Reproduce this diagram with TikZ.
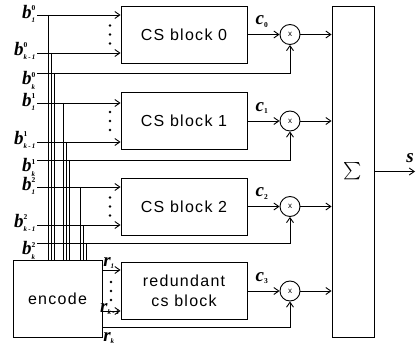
\documentclass[tikz,border=0pt]{standalone}
\usepackage{amsmath}
\usepackage{fontspec}
\setmainfont{Liberation Serif}
\newfontfamily\boxfont{Liberation Sans}[LetterSpace=8]
\newfontfamily\mulfont{Liberation Sans}
\usetikzlibrary{arrows.meta}
\newcommand\lbsup[1]{\hbox{\fontsize{7.5}{8}\selectfont\bfseries #1}}
\newcommand\lbsub[1]{\hbox{\fontsize{7}{8}\selectfont\bfseries\itshape #1}}
\newcommand\lbmain[1]{\hbox{\bfseries\itshape #1}}
\newcommand\bl[2]{$\lbmain{b}^{\lbsup{#1}}_{\lbsub{#2}}$}
\begin{document}
\begin{tikzpicture}[x=1pt,y=-1pt,
 ln/.style={line width=0.9pt},
 arr/.style={ln,-{Straight Barb[length=5pt,width=7pt]}},
 blk/.style={draw,ln,minimum width=126pt,minimum height=57pt,inner sep=0pt,
   font=\boxfont\fontsize{16}{20}\selectfont,align=center},
 mul/.style={draw,ln,circle,minimum size=20pt,inner sep=0pt,font=\mulfont\fontsize{8}{8}\selectfont},
 lab/.style={inner sep=0pt,font=\fontsize{19}{19}\selectfont},
 dotn/.style={circle,fill,inner sep=0pt,minimum size=2.6pt}]
\useasboundingbox (0,0) rectangle (418,347);
% encode and sum
\node[draw,ln,minimum width=89pt,minimum height=77pt,inner sep=0pt,
  font=\boxfont\fontsize{16}{18}\selectfont] (enc) at (57.5,298.5) {encode};
\node[draw,ln,minimum width=42pt,minimum height=331pt,inner sep=0pt,
  font=\fontsize{19}{19}\selectfont] (sum) at (353,171.5) {$\sum$};
% three CS blocks
\foreach \i/\yc/\ya/\yb/\yk/\xa/\xb/\xc in
 {0/34.5/15/53/73/48/51/54, 1/121/103/142/160/63/66/69, 2/206.5/187/225/243/80/83/86}{
  \node[blk] (blk\i) at (184,\yc) {CS block \i};
  \node[mul] (m\i) at (290,\yc) {x};
  \coordinate (sa\i) at (37,\ya);
  \coordinate (sb\i) at (37,\yb);
  \coordinate (sk\i) at (37,\yk);
  \coordinate (va\i) at (\xa,\ya);
  \coordinate (vb\i) at (\xb,\yb);
  \coordinate (vk\i) at (\xc,\yk);
  \node[lab,anchor=east] (la\i) at ([shift={(-1,-1)}]sa\i) {\bl{\i}{1}};
  \node[lab,anchor=east] (lb\i) at ([shift={(-1,-2)}]sb\i) {\bl{\i}{k\,-\,1}};
  \node[lab,anchor=north east] (lk\i) at ([shift={(-1,-1.5)}]sk\i) {\bl{\i}{k}};
  \draw[arr] (sa\i) -- (sa\i -| blk\i.west);
  \draw[arr] (sb\i) -- (sb\i -| blk\i.west);
  \draw[arr] (sk\i) -| (m\i.south);
  \draw[ln] (va\i) -- (va\i |- enc.north);
  \draw[ln] (vb\i) -- (vb\i |- enc.north);
  \draw[ln] (vk\i) -- (vk\i |- enc.north);
  \draw[arr] (blk\i.east) -- (m\i.west);
  \draw[arr] (m\i.east) -- (m\i -| sum.west);
  \node[lab] (c\i) at (262,\yc-13) {$\lbmain{c}_{\lbsup{\i}}$};
  \foreach \d in {-9,0,9} \node[dotn] at (110,\yc+\d) {};
}
% redundant block
\node[blk] (blk3) at (184,291) {redundant\\cs block};
\node[mul] (m3) at (290,291) {x};
\coordinate (r1) at (102,270);
\coordinate (r2) at (102,311);
\coordinate (rk) at (102,327);
\draw[arr] (r1) -- (r1 -| blk3.west);
\draw[arr] (r2) -- (r2 -| blk3.west);
\draw[arr] (rk) -| (m3.south);
\draw[arr] (blk3.east) -- (m3.west);
\draw[arr] (m3.east) -- (m3 -| sum.west);
\node[lab] (c3) at (262,278) {$\lbmain{c}_{\lbsup{3}}$};
\foreach \d in {-9,0,9} \node[dotn] at (111,291+\d) {};
\node[lab] (lr1) at (109,263) {$\lbmain{r}_{\lbsub{1}}$};
\node[lab] (lr2) at (110,309) {$\lbmain{r}_{\lbsub{k\,-\,1}}$};
\node[lab] (lrk) at (109,338) {$\lbmain{r}_{\lbsub{k}}$};
% output
\coordinate (sout) at (415,171.5);
\draw[arr] (sum.east) -- (sout);
\node[lab] (ls) at (410,158) {$\lbmain{s}$};
\end{tikzpicture}
\end{document}
